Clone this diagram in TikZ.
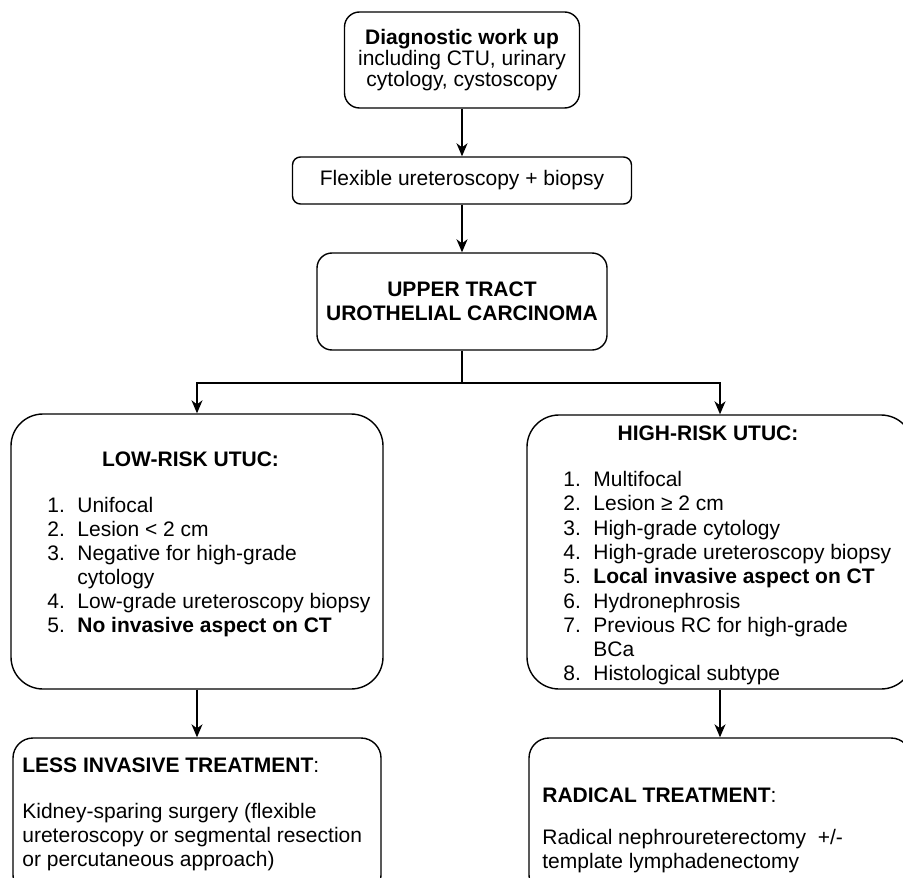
\documentclass[tikz,border=0pt]{standalone}
\usepackage{fontspec}
\setmainfont{Liberation Sans}
\usetikzlibrary{arrows.meta}

\begin{document}
\begin{tikzpicture}[x=0.5pt, y=-0.5pt, font=\fontsize{10.5}{12}\selectfont, >={Stealth[length=6.5pt, width=5.5pt, inset=2pt]},
  bx/.style={draw, line width=0.7pt, inner sep=0pt, align=center},
  lst/.style={anchor=base west, inner sep=0pt},
  hd/.style={anchor=base, inner sep=0pt, font=\fontsize{10.5}{12}\selectfont\bfseries}]
  \clip (0,0) rectangle (903,877);
  \node[bx, rounded corners=7.5pt, minimum width=117.5pt, minimum height=48pt, font=\fontsize{10.5}{10.7}\selectfont] (work) at (462,60)
    {{\bfseries Diagnostic work up}\\including CTU, urinary\\cytology, cystoscopy};
  \node[bx, rounded corners=4pt, minimum width=169.5pt, minimum height=23.5pt] (ureto) at (462,180.5) {Flexible ureteroscopy + biopsy};
  \node[bx, rounded corners=7.5pt, minimum width=145pt, minimum height=48.5pt, font=\fontsize{10.5}{12}\selectfont\bfseries] (utuc) at (462,301.5)
    {UPPER TRACT\\UROTHELIAL CARCINOMA};
  \coordinate (split) at (462,383);
  \node[bx, rounded corners=16pt, minimum width=186pt, minimum height=137.5pt] (low) at (197,551.5) {};
  \node[bx, rounded corners=16pt, minimum width=193pt, minimum height=137pt] (high) at (720,552) {};
  \node[bx, rounded corners=10pt, minimum width=184pt, minimum height=78.5pt] (less) at (197,816.5) {};
  \node[bx, rounded corners=10pt, minimum width=191pt, minimum height=78.5pt] (radical) at (720,816.5) {};
  \node[hd] (lowhd) at (190.5,466.5) {LOW-RISK UTUC:};
  \node[lst] (lowlist) at (47,512.5) {\begin{tabular}[t]{@{}l@{\hspace{6.25pt}}l@{}}
    1. & Unifocal\\ 2. & Lesion < 2 cm\\ 3. & Negative for high-grade\\ & cytology\\
    4. & Low-grade ureteroscopy biopsy\\ 5. & \textbf{No invasive aspect on CT}\end{tabular}};
  \node[hd] (highhd) at (708,440.5) {HIGH-RISK UTUC:};
  \node[lst, font=\fontsize{10.5}{12.15}\selectfont] (highlist) at (563,486.5) {\begin{tabular}[t]{@{}l@{\hspace{6.25pt}}l@{}}
    1. & Multifocal\\ 2. & Lesion ≥ 2 cm\\ 3. & High-grade cytology\\ 4. & High-grade ureteroscopy biopsy\\
    5. & \textbf{Local invasive aspect on CT}\\ 6. & Hydronephrosis\\ 7. & Previous RC for high-grade\\ & BCa\\
    8. & Histological subtype\end{tabular}};
  \node[lst] (lesstxt) at (22,772.5) {\begin{tabular}[t]{@{}l@{}}
    \textbf{LESS INVASIVE TREATMENT}:\\[11pt] Kidney-sparing surgery (flexible\\ ureteroscopy or segmental resection\\
    or percutaneous approach)\end{tabular}};
  \node[lst] (radtxt) at (542,802.5) {\begin{tabular}[t]{@{}l@{}}
    \textbf{RADICAL TREATMENT}:\\[9pt] Radical nephroureterectomy \ +/-\\ template lymphadenectomy\end{tabular}};
  \begin{scope}[line width=0.7pt]
    \draw[->] (work) -- (ureto); \draw[->] (ureto) -- (utuc);
    \draw (utuc) -- (split); \draw[->] (split) -| (low); \draw[->] (split) -| (high);
    \draw[->] (low) -- (less); \draw[->] (high) -- (radical);
  \end{scope}
\end{tikzpicture}
\end{document}
